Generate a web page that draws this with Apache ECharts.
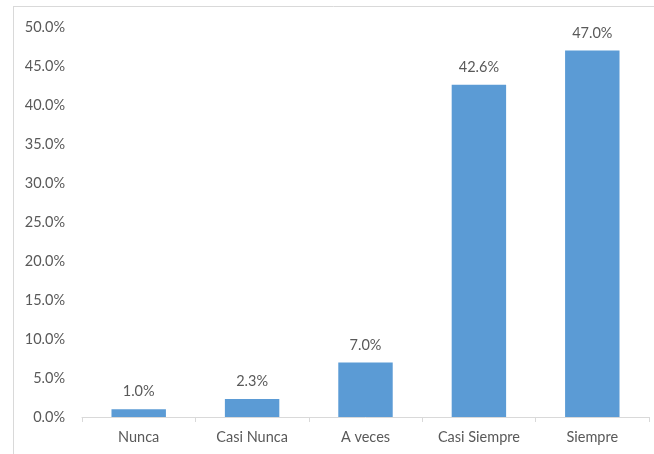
<!DOCTYPE html>
<html>
<head>
<meta charset="utf-8">
<script src="https://cdn.jsdelivr.net/npm/echarts@6/dist/echarts.min.js"></script>
<style>
  html, body { margin: 0; padding: 0; background: #fff; }
  #chart { width: 654px; height: 454px; }
</style>
</head>
<body>
<div id="chart"></div>
<script>
// categories and values (percent)
var categories = ['Nunca', 'Casi Nunca', 'A veces', 'Casi Siempre', 'Siempre'];
var values = [1.0, 2.3, 7.0, 42.6, 47.0];

var textColor = '#595959';
var fontName = 'Lato';

var chart = echarts.init(document.getElementById('chart'));

var option = {
    animation: false,
    backgroundColor: '#fff',
    graphic: [
        // light frame around the chart (left and top edges visible)
        { type: 'line', shape: { x1: 13.5, y1: 6, x2: 13.5, y2: 454 }, style: { stroke: '#d9d9d9', lineWidth: 1 } },
        { type: 'line', shape: { x1: 13, y1: 6.5, x2: 654, y2: 6.5 }, style: { stroke: '#d9d9d9', lineWidth: 1 } }
    ],
    grid: {
        left: 82,
        right: 5,
        top: 27,
        bottom: 37
    },
    xAxis: {
        type: 'category',
        data: categories,
        axisLine: { lineStyle: { color: '#d9d9d9' } },
        axisTick: { show: true, length: 5, lineStyle: { color: '#d9d9d9' } },
        axisLabel: { color: textColor, fontFamily: fontName, fontSize: 14.5, margin: 13 }
    },
    yAxis: {
        type: 'value',
        min: 0,
        max: 50,
        interval: 5,
        axisLine: { show: false },
        axisTick: { show: false },
        splitLine: { show: false },
        axisLabel: {
            color: textColor,
            fontFamily: fontName,
            fontSize: 14.5,
            margin: 17,
            formatter: function (v) { return v.toFixed(1) + '%'; }
        }
    },
    series: [
        {
            type: 'bar',
            data: values,
            barWidth: '48%',
            itemStyle: { color: '#5b9bd5' },
            label: {
                show: true,
                position: 'top',
                distance: 10,
                color: textColor,
                fontFamily: fontName,
                fontSize: 14.5,
                formatter: function (p) { return p.value.toFixed(1) + '%'; }
            }
        }
    ]
};

chart.setOption(option);
</script>
</body>
</html>
